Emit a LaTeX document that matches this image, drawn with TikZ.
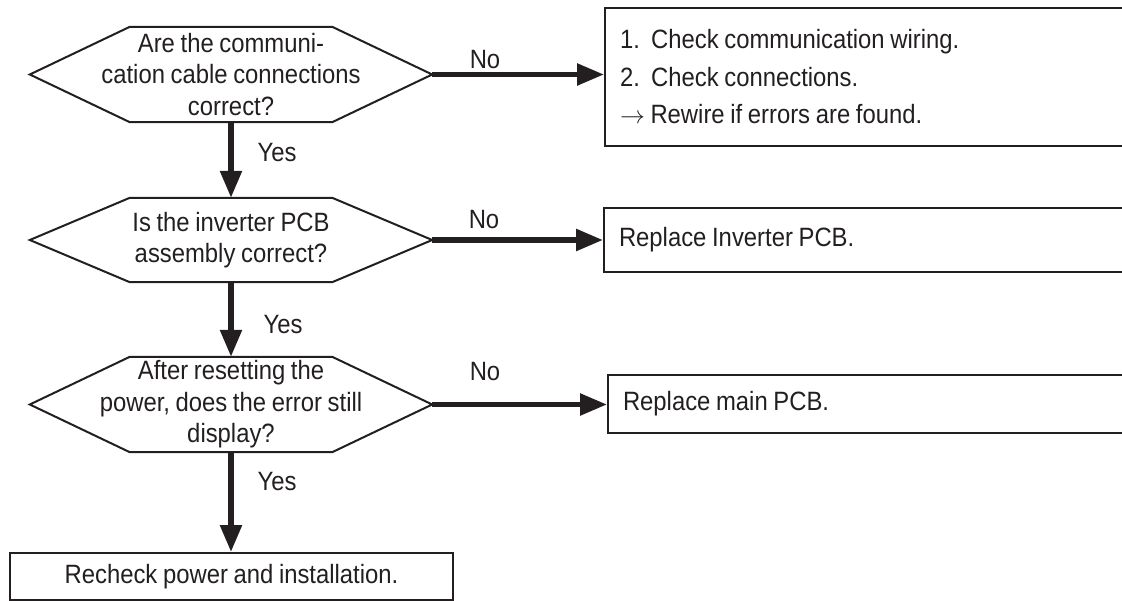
\documentclass[tikz,border=0pt]{standalone}
\usepackage{fontspec}
\setmainfont{Liberation Sans}[FakeStretch=0.9, WordSpace=0.85]
\usetikzlibrary{arrows.meta,calc}
\definecolor{ink}{RGB}{35,31,32}
\newcommand\drawhexagon[2]{%
  \draw[hexline] ($(#1.north west)+(#2,0)$) -- ($(#1.north east)+(-#2,0)$) -- (#1.east)
    -- ($(#1.south east)+(-#2,0)$) -- ($(#1.south west)+(#2,0)$) -- (#1.west) -- cycle;}
\begin{document}
\begin{tikzpicture}[x=1pt,y=-1pt,
  every node/.style={font=\fontsize{26.5}{31.5}\selectfont, text=ink},
  hexnode/.style={minimum width=402pt, inner sep=0pt, align=center},
  hexline/.style={draw=ink, line width=2pt, line join=miter},
  sidebox/.style={draw=ink, line width=2pt, anchor=west, align=flush left,
    inner xsep=15pt, inner ysep=0pt, text width=520pt},
  endbox/.style={draw=ink, line width=2pt, inner sep=0pt, align=center},
  flow/.style={draw=ink, line width=5.5pt, -{Triangle[length=27pt,width=21pt]}},
  lbl/.style={inner sep=0pt}
]
\useasboundingbox (0,0) rectangle (1122,601);
\clip (0,0) rectangle (1122,601);

% decisions
\node[hexnode, minimum height=95pt] (h1) at (231,74.5)
  {Are the communi-\\cation cable connections\\correct?};
\drawhexagon{h1}{100}
\node[hexnode, minimum height=84pt] (h2) at (231,240)
  {Is the inverter PCB\\assembly correct?};
\drawhexagon{h2}{100}
\node[hexnode, minimum height=95pt] (h3) at (231,404.5)
  {After resetting the\\power, does the error still\\display?};
\drawhexagon{h3}{100}

% actions
\node[sidebox, minimum height=138pt, font=\fontsize{26.5}{37.5}\selectfont] (b1) at (604,77)
  {1.\ \ Check communication wiring.\\2.\ \ Check connections.\\$\rightarrow$ Rewire if errors are found.};
\node[sidebox, minimum height=64pt] (b2) at (603,240) {Replace Inverter PCB.};
\node[sidebox, minimum height=58pt] (b3) at (607,404) {Replace main PCB.};
\node[endbox, minimum width=443pt, minimum height=47pt] (b4) at (231.5,576.5)
  {Recheck power and installation.};

% connectors
\draw[flow] (h1.east) -- (h1.east -| b1.west);
\draw[flow] (h2.east) -- (h2.east -| b2.west);
\draw[flow] (h3.east) -- (h3.east -| b3.west);
\draw[flow] (h1.south) -- (h2.north);
\draw[flow] (h2.south) -- (h3.north);
\draw[flow] (h3.south) -- (h3.south |- b4.north);

% labels
\node[lbl] (n1) at (485,60) {No};
\node[lbl] (n2) at (484,220) {No};
\node[lbl] (n3) at (485,372) {No};
\node[lbl] (y1) at (277,153) {Yes};
\node[lbl] (y2) at (283,325) {Yes};
\node[lbl] (y3) at (277,482) {Yes};
\end{tikzpicture}
\end{document}
